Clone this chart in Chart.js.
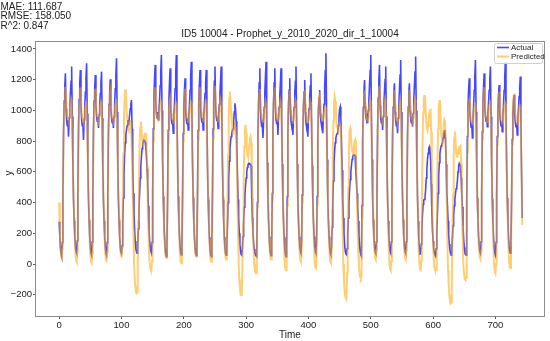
<!DOCTYPE html>
<html><head><meta charset="utf-8">
<script src="https://cdn.jsdelivr.net/npm/chart.js@4/dist/chart.umd.min.js"></script>
<style>html,body{margin:0;padding:0;background:#fff}#wrap{width:550px;height:341px;position:relative}canvas{display:block}</style>
</head><body><div id="wrap"><canvas id="c" width="550" height="341"></canvas></div>
<script>
const titleText = 'ID5 10004 - Prophet_y_2010_2020_dir_1_10004';
const metricLines = ['MAE: 111.687', 'RMSE: 158.050', 'R^2: 0.847'];
const xLabel = 'Time';
const yLabel = 'y';
const seriesNames = ['Actual', 'Predicted'];
const xTickValues = [0, 100, 200, 300, 400, 500, 600, 700];
const yTickValues = [-200, 0, 200, 400, 600, 800, 1000, 1200, 1400];

const actual = [
275,180,110,70,52,140,450,860,1060,1160,1241,1010,930,900,937,829,950,1010,1110,1190,1285,960,650,420,
280,185,115,80,70,150,470,880,1070,1180,1263,1020,940,900,920,807,940,1020,1120,1210,1306,980,660,430,
285,180,110,72,58,145,460,870,1060,1150,1230,1030,960,930,960,885,970,1030,1110,1180,1252,950,640,420,
280,178,108,70,58,140,450,850,1040,1130,1202,1010,950,920,950,885,960,1040,1140,1230,1339,990,670,430,
285,180,110,80,70,120,260,430,590,710,790,840,870,900,937,910,930,970,1010,1040,1067,880,650,460,
330,230,150,100,80,70,120,230,350,460,560,640,700,750,780,800,807,805,795,760,700,620,537,380,
250,160,110,85,72,140,460,880,1080,1200,1296,1050,980,950,990,940,1000,1060,1160,1250,1360,1000,680,440,
285,180,100,60,48,130,450,870,1060,1180,1274,1020,940,910,940,852,960,1040,1140,1240,1360,1000,670,440,
290,185,110,70,60,140,450,850,1040,1130,1209,1000,940,910,950,872,960,1030,1130,1220,1317,980,660,430,
285,180,105,68,55,135,460,870,1060,1170,1263,1020,950,920,950,872,960,1030,1110,1180,1263,950,640,420,
280,175,100,60,48,130,460,880,1070,1190,1285,1030,960,930,960,883,970,1040,1120,1200,1285,960,650,420,
280,175,105,70,58,110,240,400,550,670,750,800,830,850,872,880,930,990,1046,1010,930,780,600,420,
300,200,130,85,62,58,100,180,280,370,450,510,560,600,630,645,655,655,650,650,640,430,300,200,
140,100,75,60,52,48,400,840,1060,1180,1274,1010,930,890,910,820,930,1020,1120,1220,1317,980,660,430,
285,180,105,68,55,135,460,870,1060,1180,1274,1020,940,910,940,840,950,1020,1100,1180,1274,960,650,420,
280,175,100,60,48,130,440,850,1040,1130,1209,1000,930,900,930,840,950,1020,1110,1190,1285,960,650,420,
280,180,115,80,70,145,450,840,1030,1120,1198,990,920,890,920,829,940,1010,1090,1160,1241,940,640,420,
280,180,115,80,70,145,440,820,1000,1080,1133,980,930,900,930,852,960,1040,1150,1260,1372,1010,680,440,
285,180,110,72,60,110,240,400,540,660,740,790,820,840,850,852,900,960,1010,1024,950,800,610,430,
300,200,130,85,65,60,100,190,300,400,480,550,600,640,680,700,710,710,710,705,600,540,460,373,
280,190,120,80,60,50,380,800,1020,1120,1198,1020,960,940,980,916,1000,1070,1170,1260,1360,1000,680,440,
285,180,115,80,70,145,470,890,1080,1200,1296,1030,950,920,950,872,960,1040,1120,1200,1285,960,650,420,
280,180,115,80,70,145,450,840,1020,1110,1176,990,930,900,930,852,950,1030,1130,1230,1328,990,670,430,
285,180,115,80,70,145,450,840,1020,1110,1176,1000,950,920,960,894,980,1060,1160,1250,1350,1000,680,440,
280,170,100,60,80,130,220,320,390,417,420,430,480,560,620,680,720,750,764,750,680,520,350,220,
150,100,75,62,58,100,200,330,460,580,660,720,750,770,780,787,820,850,865,872,800,650,480,390,
280,190,130,90,70,58,100,170,250,320,380,420,460,490,503,540,600,640,655,655,640,560,460,373,
250,170,110,75,62,58,400,830,1030,1130,1209,1000,930,890,920,820,940,1030,1130,1230,1328,990,670,430,
285,180,115,80,70,145,460,860,1050,1160,1241,1020,960,930,960,894,980,1050,1130,1200,1285,960,650,420,
280,178,110,70,58,140,440,830,1010,1100,1165,990,930,900,930,862,960,1040,1130,1220,1317,980,660,430,
285,180,115,80,70,145,430,810,980,1060,1100,970,920,890,920,840,940,1010,1090,1150,1220,900,600,300
];

const predicted = [
400,220,100,50,40,100,420,820,1040,1120,1154,1060,990,960,950,930,960,1000,1040,1070,1050,880,650,440,
300,160,70,25,15,80,410,810,1030,1120,1150,1050,980,950,940,920,950,990,1030,1060,1040,870,650,440,
295,150,60,15,6,70,400,800,1020,1110,1140,1050,990,960,950,930,960,1000,1040,1065,1045,880,650,440,
300,160,70,25,20,80,400,800,1020,1110,1133,1040,980,950,940,925,955,995,1040,1075,1055,890,660,450,
310,170,90,55,50,110,380,720,950,1080,1137,1100,1020,960,930,910,894,910,920,900,840,680,460,220,
20,-80,-140,-175,-190,-185,0,280,560,780,890,927,880,820,790,800,820,840,850,852,790,640,430,230,
90,10,-25,-38,-40,20,380,800,1030,1120,1150,1060,990,960,950,935,965,1005,1045,1070,1050,880,650,440,
300,170,90,50,40,100,400,790,1000,1060,1080,1030,980,950,940,920,950,990,1030,1060,1040,870,650,440,
295,150,60,15,6,70,400,800,1020,1110,1140,1050,985,955,945,925,955,995,1035,1065,1045,880,650,440,
300,170,95,58,48,110,420,810,1030,1120,1150,1060,990,960,950,930,960,1000,1040,1070,1050,880,650,440,
300,160,70,25,15,80,410,820,1040,1130,1160,1060,990,960,950,930,960,1000,1040,1070,1050,880,650,440,
300,165,80,40,30,90,370,710,950,1080,1122,1060,980,920,880,855,852,880,900,890,830,660,430,180,
0,-100,-160,-195,-202,-190,-10,260,530,760,870,905,850,760,710,698,730,780,815,829,790,640,430,220,
80,0,-40,-58,-60,0,370,790,1020,1110,1140,1050,980,950,940,920,950,990,1030,1060,1040,870,650,440,
300,165,80,40,30,90,410,810,1030,1120,1150,1050,985,955,945,925,955,995,1035,1065,1045,880,650,430,
260,100,0,-30,-40,20,380,790,1010,1100,1130,1040,975,945,935,915,945,985,1030,1065,1045,880,650,440,
300,160,70,25,15,80,400,800,1020,1100,1130,1040,975,945,935,915,945,985,1025,1055,1035,870,650,440,
270,110,10,-20,-26,40,390,790,1000,1090,1120,1040,980,950,945,925,955,990,1010,1020,1000,860,640,430,
290,150,60,15,6,70,350,690,930,1050,1089,1060,990,930,890,875,872,890,910,900,840,670,440,190,
0,-110,-175,-210,-220,-222,-60,220,500,740,870,883,840,780,740,725,720,760,795,807,780,640,430,200,
60,-20,-60,-85,-93,-80,300,750,1000,1100,1130,1050,985,955,945,925,955,995,1035,1065,1045,880,650,440,
300,165,80,40,30,90,410,820,1040,1130,1160,1060,990,960,950,930,960,1000,1040,1070,1050,880,650,440,
260,100,0,-30,-40,20,380,790,1010,1100,1130,1040,975,945,935,915,945,985,1030,1065,1045,880,650,440,
300,165,80,40,30,90,400,800,1020,1100,1130,1040,980,950,945,925,955,995,1040,1070,1050,880,650,430,
260,100,0,-35,-40,20,350,750,980,1070,1095,1100,1000,930,890,872,900,950,985,1000,1003,860,620,360,
150,30,-20,-35,-40,-40,250,620,880,1020,1060,1068,960,860,810,790,850,910,937,925,840,630,380,140,
-40,-130,-200,-240,-255,-250,-120,150,450,700,820,862,800,730,700,698,720,745,760,765,770,660,460,250,
60,-30,-75,-98,-104,-90,280,730,980,1050,1068,1030,970,940,930,910,940,980,1020,1050,1030,870,640,430,
300,165,80,40,30,90,410,810,1030,1120,1150,1050,985,955,945,925,955,995,1035,1065,1045,880,650,430,
250,90,-20,-50,-60,0,370,780,1000,1090,1120,1040,975,945,935,915,945,985,1030,1060,1040,870,640,430,
270,110,10,-20,-26,40,380,780,1000,1080,1110,1030,970,940,930,910,940,980,1020,1040,1020,840,560,255
];

const hours = actual.map((_, i) => i);
const FONT = "'Liberation Sans', Arial, sans-serif";
const blue = 'rgba(0,0,255,0.72)';
const orange = 'rgba(255,165,0,0.55)';

const decorPlugin = {
  id: 'decor',
  afterDatasetsDraw(chart) {
    const ctx = chart.ctx, a = chart.chartArea;
    ctx.save();
    ctx.strokeStyle = '#8c8c8c';
    ctx.lineWidth = 1;
    ctx.strokeRect(Math.round(a.left) - 0.5, Math.round(a.top) - 0.5, Math.round(a.right - a.left) + 1, Math.round(a.bottom - a.top) + 1);
    // legend
    const lx = 494, ly = 43, lw = 48, lh = 20;
    ctx.fillStyle = 'rgba(255,255,255,0.85)';
    ctx.strokeStyle = '#d0d0d0';
    ctx.beginPath();
    if (ctx.roundRect) ctx.roundRect(lx + 0.5, ly + 0.5, lw, lh, 2); else ctx.rect(lx + 0.5, ly + 0.5, lw, lh);
    ctx.fill(); ctx.stroke();
    ctx.lineWidth = 1.6;
    ctx.strokeStyle = blue;
    ctx.beginPath(); ctx.moveTo(497, 47.5); ctx.lineTo(509, 47.5); ctx.stroke();
    ctx.strokeStyle = orange; ctx.lineWidth = 2;
    ctx.beginPath(); ctx.moveTo(497, 56.5); ctx.lineTo(509, 56.5); ctx.stroke();
    ctx.fillStyle = '#222';
    ctx.font = '8px ' + FONT;
    ctx.textBaseline = 'middle';
    ctx.textAlign = 'left';
    ctx.fillText(seriesNames[0], 511, 47.5);
    ctx.fillText(seriesNames[1], 511, 56.5);
    ctx.restore();
  },
  afterDraw(chart) {
    const ctx = chart.ctx, a = chart.chartArea;
    ctx.save();
    ctx.fillStyle = '#222';
    ctx.textBaseline = 'alphabetic';
    ctx.font = '10px ' + FONT;
    ctx.textAlign = 'left';
    metricLines.forEach((t, i) => ctx.fillText(t, 0.5, 9.5 + i * 9.5));
    ctx.textAlign = 'center';
    ctx.fillText(titleText, (a.left + a.right) / 2, 37);
    ctx.fillText(xLabel, (a.left + a.right) / 2, 338);
    ctx.translate(12, 173);
    ctx.rotate(-Math.PI / 2);
    ctx.fillText(yLabel, 0, 0);
    ctx.restore();
  }
};

new Chart(document.getElementById('c'), {
  type: 'line',
  data: {
    datasets: [
      { label: seriesNames[0], data: hours.map((h, i) => ({ x: h, y: actual[i] })), borderColor: blue, borderWidth: 1.6, pointRadius: 0, tension: 0, fill: false, order: 2 },
      { label: seriesNames[1], data: hours.map((h, i) => ({ x: h, y: predicted[i] })), borderColor: orange, borderWidth: 2, pointRadius: 0, tension: 0, fill: false, order: 1 }
    ]
  },
  options: {
    responsive: false,
    animation: false,
    devicePixelRatio: 1,
    layout: { padding: { top: 42, right: 6, left: 0, bottom: 0 } },
    plugins: { legend: { display: false }, tooltip: { enabled: false }, title: { display: false } },
    scales: {
      x: {
        type: 'linear', min: -37.2, max: 778,
        afterFit(s) { s.height = 25; },
        afterBuildTicks(s) { s.ticks = xTickValues.map(v => ({ value: v })); },
        grid: { drawOnChartArea: false, drawTicks: true, tickLength: 3, color: '#555' },
        border: { display: false },
        ticks: { padding: 1, autoSkip: false, maxRotation: 0, color: '#222', font: { family: FONT, size: 9.5 } }
      },
      y: {
        type: 'linear', min: -338, max: 1445,
        afterFit(s) { s.width = 36; },
        afterBuildTicks(s) { s.ticks = yTickValues.map(v => ({ value: v })); },
        grid: { drawOnChartArea: false, drawTicks: true, tickLength: 3, color: '#555' },
        border: { display: false },
        ticks: { padding: 1, autoSkip: false, color: '#222', font: { family: FONT, size: 9.5 },
          callback: v => v < 0 ? '\u2212' + Math.abs(v) : String(v) }
      }
    }
  },
  plugins: [decorPlugin]
});
</script>
</body></html>
